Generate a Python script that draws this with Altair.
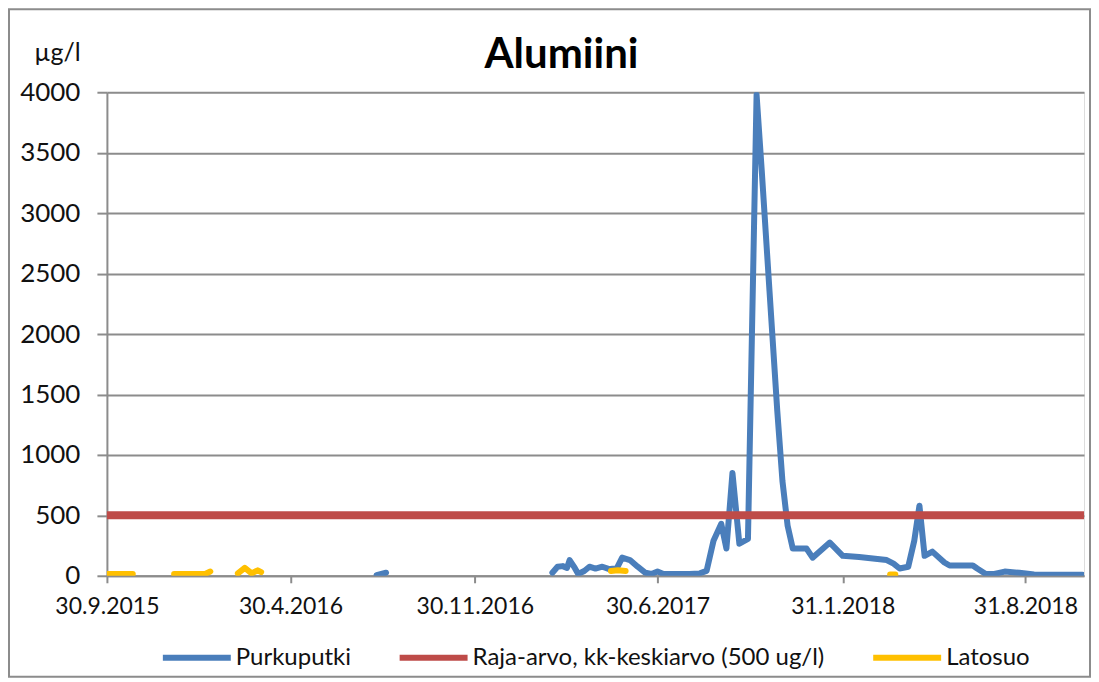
import altair as alt
import pandas as pd

# ---- data ----
purku_dates = ["2016-08-08", "2016-08-19",
               "2017-02-28", "2017-03-06", "2017-03-12", "2017-03-17", "2017-03-20", "2017-03-26", "2017-03-30",
               "2017-04-06", "2017-04-12", "2017-04-19", "2017-04-27", "2017-05-05", "2017-05-14", "2017-05-20",
               "2017-05-29", "2017-06-07", "2017-06-16", "2017-06-23", "2017-06-30", "2017-07-07", "2017-07-20",
               "2017-08-06", "2017-08-18", "2017-08-26", "2017-09-03", "2017-09-12", "2017-09-18", "2017-09-25",
               "2017-10-03", "2017-10-13", "2017-10-23", "2017-10-29", "2017-11-07", "2017-11-16", "2017-11-22",
               "2017-11-28", "2017-12-04", "2017-12-20", "2017-12-27", "2018-01-16", "2018-01-31", "2018-02-19",
               "2018-03-23", "2018-03-31", "2018-04-07", "2018-04-17", "2018-04-24", "2018-04-30", "2018-05-06",
               "2018-05-15", "2018-05-29", "2018-06-04", "2018-07-01", "2018-07-06", "2018-07-16", "2018-07-26",
               "2018-08-07", "2018-08-24", "2018-09-10", "2018-11-05"]
purku_values = [5, 25,
                25, 75, 80, 65, 130, 65, 15,
                40, 75, 60, 75, 55, 65, 150,
                130, 75, 25, 15, 35, 15, 15,
                15, 20, 40, 290, 430, 225, 850,
                265, 305, 3980, 3350, 2355, 1365, 785,
                415, 225, 225, 150, 275, 165, 155,
                130, 100, 60, 75, 290, 580, 165,
                200, 110, 85, 85, 60, 15, 15,
                35, 25, 10, 8]
purku_segments = [1, 1] + [2] * 60

raja_dates = ["2015-09-30", "2018-11-07"]
raja_values = [500, 500]
raja_segments = [1, 1]

lato_dates = ["2015-09-30", "2015-10-08", "2015-10-15", "2015-10-23", "2015-10-30",
              "2015-12-17", "2015-12-26", "2016-01-04", "2016-01-14", "2016-01-22", "2016-01-28",
              "2016-02-29", "2016-03-08", "2016-03-16", "2016-03-23", "2016-03-27",
              "2017-05-07", "2017-05-15", "2017-05-24",
              "2018-03-27", "2018-04-02"]
lato_values = [15, 15, 15, 15, 15,
               15, 15, 15, 15, 15, 35,
               20, 65, 20, 45, 30,
               40, 45, 40,
               10, 10]
lato_segments = [1] * 5 + [2] * 6 + [3] * 5 + [4] * 3 + [5] * 2

series_names = ["Purkuputki", "Raja-arvo, kk-keskiarvo (500 ug/l)", "Latosuo"]
series_colors = ["#4A7EBB", "#BE4B48", "#FFC000"]
y_ticks = [0, 500, 1000, 1500, 2000, 2500, 3000, 3500, 4000]
x_ticks = [(2015, 9, 30), (2016, 4, 30), (2016, 11, 30), (2017, 6, 30), (2018, 1, 31), (2018, 8, 31)]
x_start = (2015, 9, 30)
x_end = (2018, 11, 7)

# ---- build table ----
df = pd.concat([
    pd.DataFrame({"date": purku_dates, "value": purku_values, "series": series_names[0], "seg": purku_segments}),
    pd.DataFrame({"date": raja_dates, "value": raja_values, "series": series_names[1], "seg": raja_segments}),
    pd.DataFrame({"date": lato_dates, "value": lato_values, "series": series_names[2], "seg": lato_segments}),
], ignore_index=True)

FONT = "Lato"
GRAY = "#8c8c8c"
TXT = "#111111"

def dt(t):
    return alt.DateTime(year=t[0], month=t[1], date=t[2], utc=True)

x_enc = alt.X("date:T",
              scale=alt.Scale(type="utc", domain=[dt(x_start), dt(x_end)]),
              axis=alt.Axis(values=[dt(t) for t in x_ticks],
                            labelExpr="utcFormat(datum.value, '%-d.%-m.%Y')",
                            title=None, grid=False, tickSize=7, tickWidth=2, tickColor=GRAY,
                            domainColor=GRAY, domainWidth=2, labelFontSize=23, labelFont=FONT,
                            labelColor=TXT, labelPadding=13, labelOverlap=False, labelFlush=False))
y_enc = alt.Y("value:Q",
              scale=alt.Scale(domain=[0, 4000], nice=False),
              axis=alt.Axis(values=y_ticks, format="d", title="µg/l", titleAngle=0, titleX=-50, titleY=-40,
                            titleAlign="center", titleBaseline="middle", titleFontWeight="normal",
                            titleFontSize=25, titleFont=FONT, titleColor=TXT,
                            labelFontSize=26, labelFont=FONT, labelColor=TXT, labelPadding=17,
                            tickSize=10, tickWidth=2, tickColor=GRAY, grid=True, gridColor=GRAY,
                            gridWidth=2, domainColor=GRAY, domainWidth=2))
c_enc = alt.Color("series:N",
                  scale=alt.Scale(domain=series_names, range=series_colors),
                  legend=alt.Legend(orient="none", legendX=53, legendY=529, direction="horizontal",
                                    columns=3, symbolType="stroke", symbolSize=4624,
                                    symbolStrokeWidth=6, labelFontSize=24, labelFont=FONT,
                                    labelColor=TXT, columnPadding=36, labelOffset=2,
                                    title=None, labelLimit=0))

def series_layer(name, width):
    return alt.Chart(df).transform_filter(alt.datum.series == name).mark_line(
        strokeWidth=width, strokeCap="round", strokeJoin="round", clip=True
    ).encode(x=x_enc, y=y_enc, color=c_enc, detail="seg:N")

frame = alt.Chart(pd.DataFrame({"f": [0]})).mark_rect(
    fillOpacity=0, stroke=GRAY, strokeWidth=2, clip=False
).encode(x=alt.value(-98), x2=alt.value(984), y=alt.value(-83), y2=alt.value(585))

chart = alt.layer(
    series_layer(series_names[0], 6),
    series_layer(series_names[1], 8),
    series_layer(series_names[2], 6),
    frame,
).properties(
    width=978, height=484,
    title=alt.Title("Alumiini", fontSize=42, font=FONT, fontWeight="bold", color="#000000",
                    anchor="middle", dx=-34, dy=89, offset=20),
    padding={"left": 99, "top": 84, "right": 7, "bottom": 102},
    autosize=alt.AutoSizeParams(type="none"),
).configure_view(stroke=None).configure(background="white")

chart.save("out.html", embed_options={"renderer": "svg", "actions": False})
